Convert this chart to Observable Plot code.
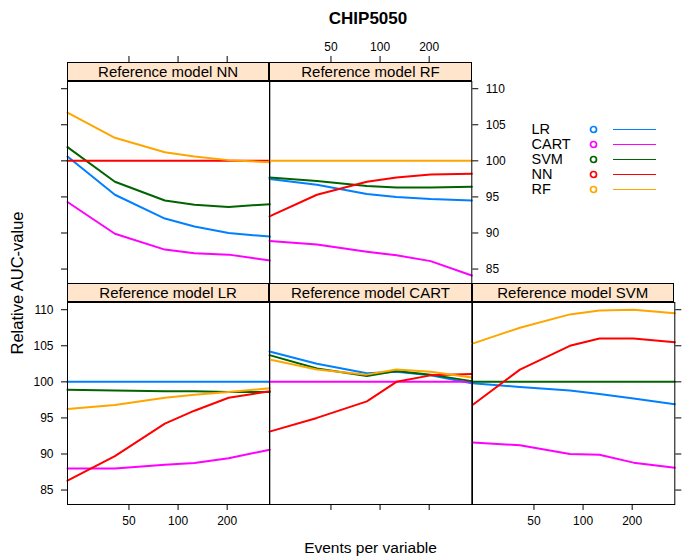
<!DOCTYPE html>
<html>
<head>
<meta charset="utf-8">
<script src="https://cdn.jsdelivr.net/npm/d3@7"></script>
<script src="https://cdn.jsdelivr.net/npm/@observablehq/plot@0.6"></script>
<style>
  body { margin: 0; background: #fff; font-family: "Liberation Sans", Arial, sans-serif; }
  #chart { position: relative; width: 685px; height: 557px; overflow: hidden; background: #fff; }
  .strip { position: absolute; box-sizing: border-box; border: 1px solid #000; background: #ffe5cc;
           font-size: 15px; line-height: 17px; text-align: center; color: #000; white-space: nowrap; }
  .lbl { position: absolute; color: #000; white-space: nowrap; text-align: center; }
</style>
</head>
<body>
<div id="chart"></div>
<script>
// ---- data ----
const epv = [21, 41, 83, 126, 204, 365];           // events per variable (x)
const series = ["LR", "CART", "SVM", "NN", "RF"];
const seriesColors = ["#0080ff", "#ff00ff", "#006400", "#ff0000", "#ffa500"];
const xTicks = [50, 100, 200];
const yTicks = [85, 90, 95, 100, 105, 110];
const yDomain = [83, 111];

// rows in series order: LR, CART, SVM, NN, RF
const refNN = [
  [100.6, 95.3, 92.0, 90.9, 90.0, 89.5],
  [94.3, 89.9, 87.7, 87.2, 87.0, 86.2],
  [101.9, 97.1, 94.5, 93.9, 93.6, 94.0],
  [100, 100, 100, 100, 100, 100],
  [106.7, 103.2, 101.2, 100.6, 100.1, 99.8]
];
const refRF = [
  [97.5, 96.7, 95.4, 95.0, 94.7, 94.5],
  [88.9, 88.4, 87.4, 86.9, 86.1, 84.1],
  [97.7, 97.2, 96.5, 96.3, 96.3, 96.4],
  [92.3, 95.3, 97.1, 97.7, 98.1, 98.2],
  [100, 100, 100, 100, 100, 100]
];
const refLR = [
  [100, 100, 100, 100, 100, 100],
  [88.0, 88.0, 88.5, 88.75, 89.4, 90.6],
  [98.9, 98.8, 98.7, 98.7, 98.6, 98.6],
  [86.3, 89.7, 94.2, 96.0, 97.8, 98.7],
  [96.25, 96.8, 97.8, 98.2, 98.6, 99.1]
];
const refCART = [
  [104.2, 102.5, 101.2, 101.4, 100.9, 99.8],
  [100, 100, 100, 100, 100, 100],
  [103.7, 101.85, 100.8, 101.5, 101.0, 100.1],
  [93.1, 95.0, 97.3, 100.0, 100.9, 101.1],
  [103.1, 101.7, 101.0, 101.7, 101.4, 100.6]
];
const refSVM = [
  [99.8, 99.3, 98.8, 98.3, 97.7, 96.9],
  [91.6, 91.2, 90.0, 89.9, 88.8, 88.1],
  [100, 100, 100, 100, 100, 100],
  [96.8, 101.7, 105.0, 106.0, 106.0, 105.5],
  [105.3, 107.5, 109.35, 109.9, 110.0, 109.5]
];
const panelTitles = ["Reference model NN", "Reference model RF", "Reference model LR", "Reference model CART", "Reference model SVM"];
const titleText = "CHIP5050";
const xLabel = "Events per variable";
const yLabel = "Relative AUC-value";

// ---- layout ----
const chart = document.getElementById("chart");
const FONT = '"Liberation Sans", Arial, sans-serif';
const PW = 202.3, PH = 202, STRIP = 19, M = 50, TICK = 6;
const colX = [67, 269.3, 471.6];
const rowY = [81, 302];

const layout = [
  {data: refNN,   title: panelTitles[0], col: 0, row: 0, top: "ticks", left: "ticks"},
  {data: refRF,   title: panelTitles[1], col: 1, row: 0, top: "labels", right: "labels"},
  {data: refLR,   title: panelTitles[2], col: 0, row: 1, left: "labels", bottom: "labels"},
  {data: refCART, title: panelTitles[3], col: 1, row: 1, bottom: "ticks"},
  {data: refSVM,  title: panelTitles[4], col: 2, row: 1, bottom: "labels", right: "ticks"}
];

function fmt(kind) { return kind === "labels" ? (d => String(d)) : (() => ""); }

// x axis drawn as short tick marks plus text, positioned through the x scale
function xAxis(anchor, kind, offset) {
  const top = anchor === "top";
  const out = [
    Plot.tickX(xTicks, {
      x: d => d, stroke: "#000", strokeWidth: 1,
      insetTop: top ? 0 : PH - TICK, insetBottom: top ? PH - TICK : 0,
      dy: top ? offset - TICK : TICK
    })
  ];
  if (kind === "labels") {
    out.push(Plot.text(xTicks, {
      x: d => d, text: d => String(d), frameAnchor: anchor, fontSize: 12, fill: "#000",
      lineAnchor: top ? "bottom" : "top",
      dy: top ? offset - TICK - 5 : TICK + 6
    }));
  }
  return out;
}

for (const p of layout) {
  const rows = [];
  series.forEach((s, i) => p.data[i].forEach((v, j) => rows.push({series: s, epv: epv[j], value: v})));
  const marks = [
    Plot.line(rows, {x: "epv", y: "value", z: "series", stroke: "series", strokeWidth: 2})
  ];
  if (p.top) marks.push(...xAxis("top", p.top, -STRIP));
  if (p.bottom) marks.push(...xAxis("bottom", p.bottom, 0));
  if (p.left) marks.push(Plot.axisY({ticks: yTicks, anchor: "left", tickSize: TICK, tickPadding: 8, tickFormat: fmt(p.left), label: null, fontSize: 12}));
  if (p.right) marks.push(Plot.axisY({ticks: yTicks, anchor: "right", tickSize: TICK, tickPadding: 8, tickFormat: fmt(p.right), label: null, fontSize: 12}));
  marks.push(Plot.frame({stroke: "#000", strokeWidth: 1}));

  const svg = Plot.plot({
    width: PW + 2 * M, height: PH + 2 * M, margin: M,
    x: {type: "log", domain: [epv[0], epv[epv.length - 1]], axis: null},
    y: {domain: yDomain, axis: null},
    color: {domain: series, range: seriesColors},
    style: {background: "transparent", overflow: "visible", fontFamily: FONT, fontSize: "12px", color: "#000"},
    marks
  });
  svg.style.position = "absolute";
  svg.style.left = (colX[p.col] - M) + "px";
  svg.style.top = (rowY[p.row] - M) + "px";
  svg.style.maxWidth = "none";
  chart.appendChild(svg);

  const strip = document.createElement("div");
  strip.className = "strip";
  strip.style.left = colX[p.col] + "px";
  strip.style.top = (rowY[p.row] - STRIP) + "px";
  strip.style.width = PW + "px";
  strip.style.height = STRIP + "px";
  strip.textContent = p.title;
  chart.appendChild(strip);
}

// ---- legend ----
const LM = 10, LW = 125, LH = 62;
const legend = Plot.plot({
  width: LW + 2 * LM, height: LH + 2 * LM, margin: LM,
  y: {type: "point", domain: series, padding: 0, axis: null},
  color: {domain: series, range: seriesColors},
  style: {background: "transparent", overflow: "visible", fontFamily: FONT, fontSize: "14px", color: "#000"},
  marks: [
    Plot.text(series, {y: d => d, text: d => d, frameAnchor: "left", textAnchor: "start", fontSize: 14.5, fill: "#000"}),
    Plot.dot(series, {y: d => d, frameAnchor: "left", dx: 62, r: 3, stroke: d => d, strokeWidth: 1.7, fill: "white"}),
    Plot.ruleY(series, {y: d => d, stroke: d => d, strokeWidth: 1.2, insetLeft: 82})
  ]
});
legend.style.position = "absolute";
legend.style.left = (530.7 - LM) + "px";
legend.style.top = (128 - LM) + "px";
legend.style.maxWidth = "none";
chart.appendChild(legend);

// ---- titles ----
function addLabel(text, css) {
  const d = document.createElement("div");
  d.className = "lbl";
  d.textContent = text;
  Object.assign(d.style, css);
  chart.appendChild(d);
  return d;
}
addLabel(titleText, {left: (368 - 100) + "px", top: "9px", width: "200px", fontSize: "17px", lineHeight: "20px", fontWeight: "bold"});
addLabel(xLabel, {left: (370.5 - 150) + "px", top: "539px", width: "300px", fontSize: "15.5px", lineHeight: "18px"});
addLabel(yLabel, {left: (17 - 150) + "px", top: (283 - 10) + "px", width: "300px", height: "20px", fontSize: "16.5px", lineHeight: "20px", transform: "rotate(-90deg)", transformOrigin: "50% 50%"});
</script>
</body>
</html>
